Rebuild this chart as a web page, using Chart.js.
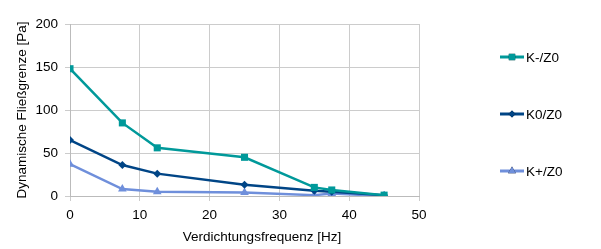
<!DOCTYPE html>
<html>
<head>
<meta charset="utf-8">
<script src="https://cdn.jsdelivr.net/npm/chart.js@4/dist/chart.umd.min.js"></script>
<style>
  html, body { margin: 0; padding: 0; background: #fff; }
  #wrap { width: 601px; height: 249px; }
</style>
</head>
<body>
<div id="wrap"><canvas id="chart"></canvas></div>
<script>
// Daten
const frequencies = [0, 7.5, 12.5, 25, 35, 37.5, 45];
const kMinus = [148, 85, 56, 45, 10, 7, 1];
const kNull = [65, 36, 26, 13, 6, 5, 1];
const kPlus = [37, 8, 5, 4, 1, 3, 0];
const seriesNames = ["K-/Z0", "K0/Z0", "K+/Z0"];
const xTicks = [0, 10, 20, 30, 40, 50];
const yTicks = [0, 50, 100, 150, 200];
const xTitle = "Verdichtungsfrequenz [Hz]";

const colors = ["#00999a", "#004586", "#6f8fdb"];
const markers = ["rect", "rectRot", "triangle"];
const markerSizes = [5, 4, 5];

function toPoints(values) {
  return frequencies.map((f, i) => ({ x: f, y: values[i] }));
}

const datasets = [kMinus, kNull, kPlus].map((values, i) => ({
  label: seriesNames[i],
  data: toPoints(values),
  borderColor: colors[i],
  backgroundColor: colors[i],
  borderWidth: 2.5,
  pointStyle: markers[i],
  pointRadius: markerSizes[i],
  pointBorderWidth: 0,
  tension: 0,
}));

const fontCss = "13.5px 'Liberation Sans', Arial, sans-serif";

// Legende rechts (Linie mit Marker) und x-Achsentitel, wie im Original
const sideLegend = {
  id: "sideLegend",
  afterDraw(chart) {
    const c = chart.ctx;
    const rows = [57, 114, 171];
    c.save();
    chart.data.datasets.forEach((ds, i) => {
      const y = rows[i];
      c.strokeStyle = ds.borderColor;
      c.lineWidth = 3;
      c.beginPath();
      c.moveTo(500, y);
      c.lineTo(524, y);
      c.stroke();
      Chart.helpers.drawPoint(c, {
        pointStyle: ds.pointStyle,
        radius: ds.pointRadius - 0.5,
        borderWidth: 0,
      }, 512, y);
      c.fillStyle = ds.borderColor;
      c.fill();
      c.fillStyle = "#000";
      c.font = fontCss;
      c.textBaseline = "middle";
      c.textAlign = "left";
      c.fillText(ds.label, 526, y + 1);
    });
    // Achsentitel unten, leicht nach rechts versetzt wie in der Vorlage
    c.fillStyle = "#000";
    c.font = fontCss;
    c.textAlign = "center";
    c.textBaseline = "middle";
    c.fillText(xTitle, 262, 237);
    c.restore();
  },
};

const font = { family: "'Liberation Sans', Arial, sans-serif", size: 13.5 };

new Chart(document.getElementById("chart"), {
  type: "line",
  data: { datasets: datasets },
  options: {
    responsive: true,
    maintainAspectRatio: false,
    animation: false,
    layout: { padding: { top: 24, right: 182, left: 8, bottom: 0 } },
    plugins: {
      legend: { display: false },
      tooltip: { enabled: false },
    },
    scales: {
      x: {
        type: "linear",
        min: 0,
        max: 50,
        afterBuildTicks: (axis) => { axis.ticks = xTicks.map((v) => ({ value: v })); },
        afterFit: (axis) => { axis.height = 53; },
        grid: { color: "#cccccc", lineWidth: 1, tickLength: 5 },
        border: { color: "#bbbbbb" },
        ticks: { color: "#000", font: font, padding: 6 },
        title: { display: false },
      },
      y: {
        min: 0,
        max: 200,
        afterBuildTicks: (axis) => { axis.ticks = yTicks.map((v) => ({ value: v })); },
        afterFit: (axis) => { axis.width = 62; },
        grid: { color: "#cccccc", lineWidth: 1, tickLength: 5 },
        border: { color: "#bbbbbb" },
        ticks: { color: "#000", font: font, padding: 7 },
        title: { display: true, text: "Dynamische Fließgrenze [Pa]", color: "#000", font: font, padding: { top: 6, bottom: 0 } },
      },
    },
  },
  plugins: [sideLegend],
});
</script>
</body>
</html>
